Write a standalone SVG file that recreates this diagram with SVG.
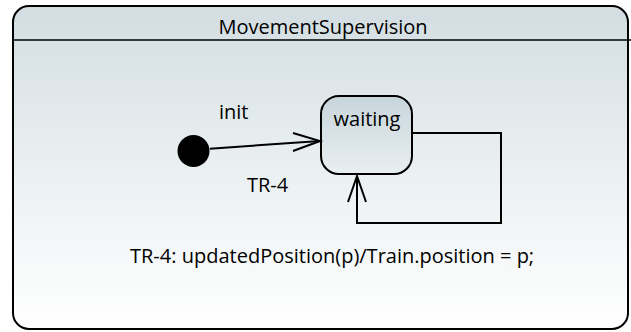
<svg xmlns="http://www.w3.org/2000/svg" width="631" height="332" viewBox="0 0 631 332">
  <defs>
    <linearGradient id="frameFill" x1="0" y1="0" x2="0" y2="1">
      <stop offset="0" stop-color="#d3dde1"/>
      <stop offset="0.45" stop-color="#e8eef0"/>
      <stop offset="1" stop-color="#ffffff"/>
    </linearGradient>
    <linearGradient id="stateFill" x1="0" y1="0" x2="0" y2="1">
      <stop offset="0" stop-color="#c7d5db"/>
      <stop offset="1" stop-color="#e9eff1"/>
    </linearGradient>
    <style>
      .line { fill: none; stroke: #000; stroke-width: 2; stroke-linejoin: miter; }
      .lbl { font-family: "Open Sans", "Noto Sans", sans-serif; font-size: 20px; fill: #000; }
    </style>
  </defs>
  <rect width="631" height="332" fill="#ffffff"/>

  <!-- composite state frame -->
  <g id="MovementSupervision">
    <rect x="13" y="6" width="615" height="323" rx="16" ry="16" fill="url(#frameFill)" stroke="#000" stroke-width="2"/>
    <line x1="13" y1="40" x2="631" y2="40" stroke="#000" stroke-width="1.5"/>
    <text class="lbl" x="323" y="34" text-anchor="middle">MovementSupervision</text>
  </g>

  <!-- initial pseudostate -->
  <g id="initial">
    <circle cx="193.5" cy="151" r="16" fill="#000"/>
  </g>

  <!-- simple state -->
  <g id="waiting">
    <rect x="321" y="96" width="91" height="78" rx="18" ry="18" fill="url(#stateFill)" stroke="#000" stroke-width="2"/>
    <text class="lbl" x="367" y="126" text-anchor="middle">waiting</text>
  </g>

  <!-- transitions -->
  <g id="connectors">
    <path class="line" d="M210 148.7 L320 141"/>
    <path class="line" d="M293 133 L320 141 L293 151"/>
    <path class="line" d="M413 133 L501 133 L501 223 L357 223 L357 176"/>
    <path class="line" d="M348 202 L357 176 L366 202"/>
    <text class="lbl" x="219" y="119">init</text>
    <text class="lbl" x="247" y="192">TR-4</text>
  </g>

  <text class="lbl" x="130" y="263">TR-4: updatedPosition(p)/Train.position = p;</text>
</svg>
